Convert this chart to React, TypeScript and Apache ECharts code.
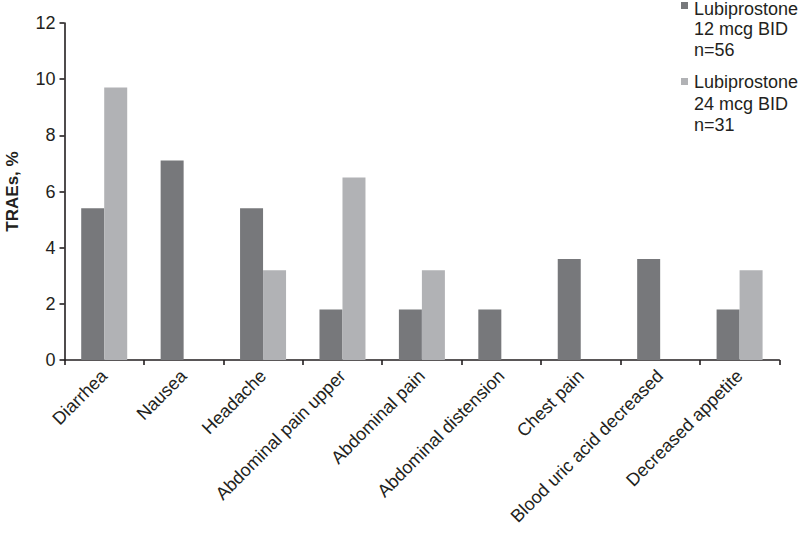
import React, { useEffect, useRef } from "react";
import * as echarts from "echarts";

const categories = [
  "Diarrhea",
  "Nausea",
  "Headache",
  "Abdominal pain upper",
  "Abdominal pain",
  "Abdominal distension",
  "Chest pain",
  "Blood uric acid decreased",
  "Decreased appetite",
];
const dose12 = [5.4, 7.1, 5.4, 1.8, 1.8, 1.8, 3.6, 3.6, 1.8];
const dose24 = [9.7, 0, 3.2, 6.5, 3.2, 0, 0, 0, 3.2];
const seriesNames = ["Lubiprostone\n12 mcg BID\nn=56", "Lubiprostone\n24 mcg BID\nn=31"];
const seriesColors = ["#77787b", "#b1b2b5"];
const yAxisTitle = "TRAEs, %";

const FONT = "'Liberation Sans', Arial, sans-serif";
const INK = "#231f20";

export default function App() {
  const ref = useRef<HTMLDivElement>(null);
  useEffect(() => {
    if (!ref.current) return;
    const chart = echarts.init(ref.current, undefined, { renderer: "svg" });
    const legendGraphics: any[] = [];
    const itemTops = [2, 78];
    const lineCenters = [
      [9, 28.5, 50],
      [82, 103.5, 125],
    ];
    seriesNames.forEach((name, i) => {
      legendGraphics.push({
        type: "rect",
        left: 681,
        top: itemTops[i],
        shape: { width: 7, height: 7 },
        style: { fill: seriesColors[i] },
      });
      name.split("\n").forEach((line, j) => {
        legendGraphics.push({
          type: "text",
          x: 694,
          y: lineCenters[i][j],
          style: {
            text: line,
            fontFamily: FONT,
            fontSize: 18,
            fill: INK,
            align: "left",
            verticalAlign: "middle",
          },
        });
      });
    });
    chart.setOption({
      animation: false,
      backgroundColor: "#ffffff",
      grid: {
        left: 64.5,
        right: 20.7,
        top: 23,
        bottom: 173,
        containLabel: false,
        outerBoundsMode: "none",
      },
      graphic: legendGraphics,
      xAxis: {
        type: "category",
        data: categories,
        axisLine: { lineStyle: { color: INK, width: 1.6 } },
        axisTick: { show: true, length: 5, lineStyle: { color: INK, width: 1.6 } },
        axisLabel: {
          rotate: 45,
          interval: 0,
          margin: 13,
          color: INK,
          fontFamily: FONT,
          fontSize: 18,
        },
      },
      yAxis: {
        type: "value",
        min: 0,
        max: 12,
        interval: 2,
        name: yAxisTitle,
        nameLocation: "middle",
        nameGap: 44,
        nameTextStyle: { color: INK, fontFamily: FONT, fontSize: 17, fontWeight: "bold" },
        splitLine: { show: false },
        axisLine: { show: true, lineStyle: { color: INK, width: 1.6 } },
        axisTick: { show: true, length: 5, lineStyle: { color: INK, width: 1.6 } },
        axisLabel: { color: INK, fontFamily: FONT, fontSize: 18, margin: 9 },
      },
      series: [
        {
          name: seriesNames[0],
          type: "bar",
          data: dose12,
          barWidth: 23,
          barGap: "0%",
          itemStyle: { color: seriesColors[0] },
        },
        {
          name: seriesNames[1],
          type: "bar",
          data: dose24,
          barWidth: 23,
          barGap: "0%",
          itemStyle: { color: seriesColors[1] },
        },
      ],
    });
    return () => chart.dispose();
  }, []);
  return <div ref={ref} style={{ width: 800, height: 533, position: "absolute", left: 0, top: 0 }} />;
}
